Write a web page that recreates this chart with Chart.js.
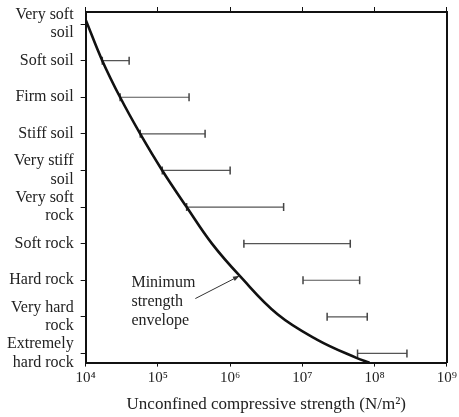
<!DOCTYPE html>
<html>
<head>
<meta charset="utf-8">
<script src="https://cdn.jsdelivr.net/npm/chart.js@4/dist/chart.umd.min.js"></script>
<style>
  html, body { margin: 0; padding: 0; background: #fff; }
  #wrap { width: 459px; height: 417px; }
</style>
</head>
<body>
<div id="wrap"><canvas id="c" width="459" height="417"></canvas></div>
<script>
// ---- data ----
const categories = [
  ["Very soft", "soil"], "Soft soil", "Firm soil", "Stiff soil",
  ["Very stiff", "soil"], ["Very soft", "rock"], "Soft rock", "Hard rock",
  ["Very hard", "rock"], ["Extremely", "hard rock"]
];
// strength ranges (N/m^2) for each category (null = none drawn)
const rangeLow  = [null, 1.7e4, 3.0e4, 5.7e4, 1.15e5, 2.5e5, 1.55e6, 1.02e7, 2.2e7, 5.8e7];
const rangeHigh = [null, 4.0e4, 2.7e5, 4.5e5, 1.0e6, 5.5e6, 4.6e7, 6.2e7, 7.9e7, 2.8e8];
// minimum strength envelope (x in N/m^2, y in category index units)
const envelopeX = [1.0e4, 1.7e4, 3.0e4, 5.7e4, 1.15e5, 2.5e5, 5.6e5, 1.37e6, 4.53e6, 1.59e7, 5.6e7, 8.5e7];
const envelopeY = [-0.12, 1, 2, 3, 4, 5, 6, 6.89, 7.93, 8.62, 9.12, 9.25];
// x tick values
const xTicks = [1e4, 1e5, 1e6, 1e7, 1e8, 1e9];
// annotation
const noteLines = ["Minimum", "strength", "envelope"];
const noteX = 4.3e4;
const noteY = [7.06, 7.58, 8.10];
const arrowFrom = [3.3e5, 7.5];
const arrowTo = [1.35e6, 6.88];

const xTitle = "Unconfined compressive strength (N/m\u00B2)";

// ---- chart ----
const SUP = "\u2070\u00B9\u00B2\u00B3\u2074\u2075\u2076\u2077\u2078\u2079";
function supExp(v) {
  const e = Math.round(Math.log10(v));
  return "10" + String(e).split("").map(d => SUP[+d]).join("");
}
const FONT = "'Liberation Serif', 'Times New Roman', serif";
Chart.defaults.font.family = FONT;
Chart.defaults.color = "#222";

const datasets = [];
datasets.push({
  data: envelopeX.map((x, i) => ({ x: x, y: envelopeY[i] })),
  showLine: true,
  borderColor: "#111",
  borderWidth: 2.6,
  pointRadius: 0,
  tension: 0.4,
  fill: false
});
categories.forEach((c, i) => {
  if (rangeLow[i] == null) return;
  datasets.push({
    data: [{ x: rangeLow[i], y: i }, { x: rangeHigh[i], y: i }],
    showLine: true,
    borderColor: "#555",
    borderWidth: 1.2,
    pointStyle: "line",
    rotation: 90,
    pointRadius: 4,
    pointBorderWidth: 1.5,
    pointBorderColor: "#444",
    fill: false
  });
});

const notePlugin = {
  id: "note",
  afterDatasetsDraw(chart) {
    const { ctx, scales } = chart;
    const xs = scales.x, ys = scales.y;
    ctx.save();
    ctx.fillStyle = "#222";
    ctx.font = "16px " + FONT;
    ctx.textAlign = "left";
    ctx.textBaseline = "middle";
    noteLines.forEach((t, i) => {
      ctx.fillText(t, xs.getPixelForValue(noteX), ys.getPixelForValue(noteY[i]));
    });
    const x1 = xs.getPixelForValue(arrowFrom[0]), y1 = ys.getPixelForValue(arrowFrom[1]);
    const x2 = xs.getPixelForValue(arrowTo[0]), y2 = ys.getPixelForValue(arrowTo[1]);
    ctx.strokeStyle = "#333";
    ctx.lineWidth = 1;
    ctx.beginPath();
    ctx.moveTo(x1, y1);
    ctx.lineTo(x2, y2);
    ctx.stroke();
    const a = Math.atan2(y2 - y1, x2 - x1);
    const L = 7, W = 0.35;
    ctx.fillStyle = "#333";
    ctx.beginPath();
    ctx.moveTo(x2, y2);
    ctx.lineTo(x2 - L * Math.cos(a - W), y2 - L * Math.sin(a - W));
    ctx.lineTo(x2 - L * Math.cos(a + W), y2 - L * Math.sin(a + W));
    ctx.closePath();
    ctx.fill();
    ctx.restore();
  }
};

new Chart(document.getElementById("c"), {
  type: "scatter",
  data: { datasets: datasets },
  plugins: [notePlugin],
  options: {
    responsive: false,
    animation: false,
    layout: { padding: { left: 0, right: 0, top: 7, bottom: 2 } },
    plugins: { legend: { display: false }, tooltip: { enabled: false } },
    scales: {
      x: {
        type: "logarithmic",
        position: "bottom",
        min: 1e4, max: 1e9,
        afterBuildTicks: (ax) => { ax.ticks = xTicks.map(v => ({ value: v, major: true })); },
        ticks: {
          callback: (v) => supExp(v),
          font: { size: 15 }, color: "#222",
          padding: 2, maxRotation: 0, autoSkip: false
        },
        grid: { drawOnChartArea: false, tickLength: 4, color: "#111", lineWidth: 1 },
        border: { display: true, color: "#111", width: 2 },
        title: { display: true, text: xTitle, font: { size: 17 }, color: "#222", padding: { top: 6, bottom: 0 } }
      },
      xTop: {
        type: "logarithmic",
        position: "top",
        min: 1e4, max: 1e9,
        afterBuildTicks: (ax) => { ax.ticks = xTicks.map(v => ({ value: v, major: true })); },
        ticks: { display: false },
        grid: { drawOnChartArea: false, tickLength: 5, color: "#111", lineWidth: 1 },
        border: { display: true, color: "#111", width: 2 }
      },
      y: {
        type: "linear",
        position: "left",
        reverse: true,
        min: -0.33, max: 9.25,
        afterBuildTicks: (ax) => { ax.ticks = categories.map((c, i) => ({ value: i })); },
        afterFit: (ax) => { ax.paddingTop = 0; ax.paddingBottom = 0; },
        ticks: {
          callback: (v) => categories[v],
          font: { size: 16, lineHeight: 1.15 }, color: "#222",
          padding: 7, autoSkip: false
        },
        grid: { drawOnChartArea: false, tickLength: 5, color: "#111", lineWidth: 1 },
        border: { display: true, color: "#111", width: 2 }
      },
      yRight: {
        type: "linear",
        position: "right",
        reverse: true,
        min: -0.33, max: 9.25,
        ticks: { display: false },
        grid: { display: false, drawOnChartArea: false, drawTicks: false },
        border: { display: true, color: "#111", width: 2 }
      }
    }
  }
});
</script>
</body>
</html>
